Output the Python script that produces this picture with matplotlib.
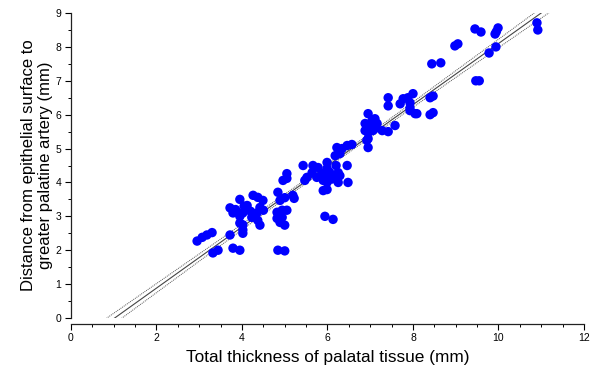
import numpy as np
import matplotlib
matplotlib.use("Agg")
import matplotlib.pyplot as plt
from matplotlib.ticker import MultipleLocator

# Data (total thickness, distance to artery), mm
thickness = [
    2.95, 3.07, 3.18, 3.30, 3.32, 3.44, 3.72, 3.79, 3.95, 4.02, 4.02, 3.95, 4.02,
    3.72, 3.79, 3.95, 3.95, 4.02, 3.85, 4.05, 4.12, 4.23, 4.30, 4.37, 4.42, 4.26,
    4.37, 4.49, 4.42, 4.50, 4.20, 4.35, 4.82, 4.94, 5.05, 4.82, 4.94, 4.89, 5.00,
    4.84, 5.00, 4.84, 5.19, 5.22, 4.89, 5.00, 5.05, 4.96, 5.05,
    5.43, 5.66, 5.78, 5.99, 5.99, 5.64, 5.47, 5.52, 5.75, 5.87, 5.90, 5.99, 5.90,
    5.99, 6.18, 6.25, 6.29, 6.25, 6.46, 6.48, 6.22, 6.34, 6.46, 6.57, 6.18, 6.29,
    5.94, 6.13, 6.05, 6.10, 6.20, 6.05,
    6.92, 6.95, 6.95, 6.95, 7.11, 6.88, 6.95, 7.06, 6.88, 7.28, 7.42, 7.58, 6.95,
    7.04, 7.16, 7.11, 7.42, 7.42, 7.77, 7.70, 7.88, 8.00, 7.93, 7.93, 8.05, 7.93,
    8.09, 8.40, 8.47, 8.40, 8.47,
    8.44, 8.65, 8.98, 9.05, 9.45, 9.59, 9.92, 9.99, 9.94, 9.78, 9.47, 9.55, 10.90,
    10.92, 9.95,
]
distance = [
    2.27, 2.38, 2.45, 2.52, 1.92, 2.00, 2.45, 2.06, 2.00, 2.50, 2.60, 2.80, 2.75,
    3.25, 3.10, 3.50, 3.00, 3.10, 3.20, 3.30, 3.32, 2.97, 3.03, 2.88, 2.74, 3.62,
    3.56, 3.47, 3.26, 3.18, 3.15, 3.10, 3.12, 3.18, 3.18, 2.94, 2.97, 2.82, 2.74,
    2.00, 1.98, 3.71, 3.62, 3.53, 3.47, 3.55, 4.26, 4.06, 4.12,
    4.50, 4.50, 4.44, 4.59, 4.41, 4.29, 4.06, 4.15, 4.15, 4.26, 4.06, 4.00, 3.76,
    3.79, 4.15, 4.29, 4.20, 4.00, 4.50, 4.00, 5.03, 5.00, 5.09, 5.12, 4.79, 4.85,
    3.00, 2.91, 4.30, 4.10, 4.50, 4.20,
    5.24, 5.03, 5.47, 6.03, 5.88, 5.74, 5.62, 5.53, 5.53, 5.53, 5.50, 5.68, 5.29,
    5.82, 5.74, 5.59, 6.26, 6.50, 6.47, 6.32, 6.50, 6.62, 6.35, 6.12, 6.03, 6.20,
    6.03, 6.50, 6.06, 6.00, 6.55,
    7.50, 7.53, 8.03, 8.09, 8.53, 8.44, 8.38, 8.56, 8.00, 7.82, 7.00, 7.00, 8.71,
    8.50, 8.45,
]

x_ticks = [0, 2, 4, 6, 8, 10, 12]
y_ticks = [0, 1, 2, 3, 4, 5, 6, 7, 8, 9]

x = np.array(thickness)
y = np.array(distance)

# Linear regression with confidence band of the mean
n = len(x)
slope, intercept = np.polyfit(x, y, 1)
resid = y - (slope * x + intercept)
s = np.sqrt(np.sum(resid ** 2) / (n - 2))
xbar = x.mean()
sxx = np.sum((x - xbar) ** 2)
t_mult = 1.2
xl = np.linspace(0.3, 11.6, 300)
yl = slope * xl + intercept
half = t_mult * s * np.sqrt(1.0 / n + (xl - xbar) ** 2 / sxx)

fig = plt.figure(figsize=(5.93, 3.71), dpi=100)
ax = fig.add_axes([0.1197, 0.1429, 0.8651, 0.822])

ax.plot(xl, yl, color="#444444", lw=0.8, zorder=1)
ax.plot(xl, yl + half, color="#555555", lw=0.7, ls=(0, (1, 1)), zorder=1)
ax.plot(xl, yl - half, color="#555555", lw=0.7, ls=(0, (1, 1)), zorder=1)

ax.scatter(x, y, s=46, color="#0000FF", edgecolors="none", zorder=2)

ax.set_xlim(0, 12)
ax.set_ylim(0, 9)
ax.set_xticks(x_ticks)
ax.set_yticks(y_ticks)
ax.xaxis.set_minor_locator(MultipleLocator(0.5))
ax.yaxis.set_minor_locator(MultipleLocator(0.5))

for side in ("top", "right"):
    ax.spines[side].set_visible(False)
ax.spines["bottom"].set_position(("outward", 4))
for side in ("left", "bottom"):
    ax.spines[side].set_linewidth(0.9)
    ax.spines[side].set_color("#222222")

tick_font = ["Liberation Sans Narrow", "Liberation Sans", "DejaVu Sans"]
ax.tick_params(which="major", direction="out", length=4, width=0.8, labelsize=7.5, pad=3)
ax.tick_params(which="minor", direction="out", length=2, width=0.7)
for lab in ax.get_xticklabels() + ax.get_yticklabels():
    lab.set_family(tick_font)

label_font = ["Liberation Sans", "DejaVu Sans"]
ax.set_xlabel("Total thickness of palatal tissue (mm)", fontsize=12.4, family=label_font, labelpad=5)
ax.set_ylabel("Distance from epithelial surface to\ngreater palatine artery (mm)",
              fontsize=12, family=label_font, labelpad=2, linespacing=1.15)

fig.savefig("out.png", dpi=100)
